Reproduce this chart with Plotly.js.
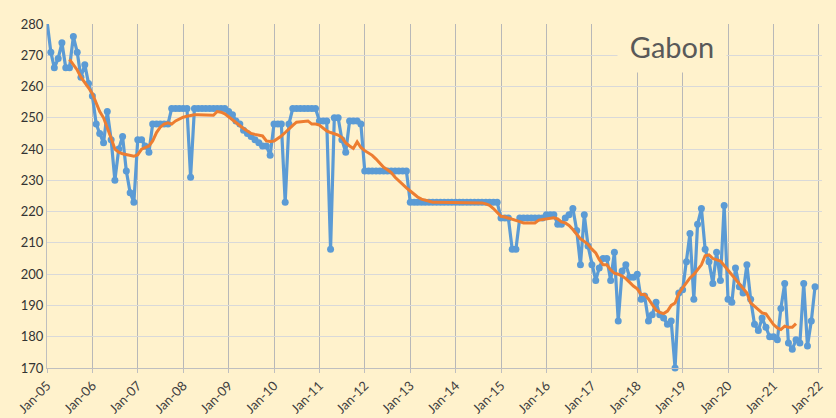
<!DOCTYPE html>
<html>
<head>
<meta charset="utf-8">
<script src="https://cdn.plot.ly/plotly-3.0.1.min.js"></script>
<style>
html,body{margin:0;padding:0;background:#fff2cc;}
#chart{width:836px;height:418px;}
</style>
</head>
<body>
<div id="chart"></div>
<script>
// Monthly production, Jan-2005 .. Dec-2021
const startYear = 2005;
const production = [
  281, 271, 266, 269, 274, 266, 266, 276, 271, 263, 267, 261,   // 2005
  257, 248, 245, 242, 252, 243, 230, 240, 244, 233, 226, 223,   // 2006
  243, 243, 241, 239, 248, 248, 248, 248, 248, 253, 253, 253,   // 2007
  253, 253, 231, 253, 253, 253, 253, 253, 253, 253, 253, 253,   // 2008
  252, 251, 249, 248, 246, 245, 244, 243, 242, 241, 241, 238,   // 2009
  248, 248, 248, 223, 248, 253, 253, 253, 253, 253, 253, 253,   // 2010
  249, 249, 249, 208, 250, 250, 243, 239, 249, 249, 249, 248,   // 2011
  233, 233, 233, 233, 233, 233, 233, 233, 233, 233, 233, 233,   // 2012
  223, 223, 223, 223, 223, 223, 223, 223, 223, 223, 223, 223,   // 2013
  223, 223, 223, 223, 223, 223, 223, 223, 223, 223, 223, 223,   // 2014
  218, 218, 218, 208, 208, 218, 218, 218, 218, 218, 218, 218,   // 2015
  219, 219, 219, 216, 216, 218, 219, 221, 214, 203, 219, 209,   // 2016
  203, 198, 202, 205, 205, 198, 207, 185, 201, 203, 199, 199,   // 2017
  200, 192, 193, 185, 187, 191, 187, 186, 184, 185, 170, 194,   // 2018
  195, 204, 213, 192, 216, 221, 208, 204, 197, 207, 198, 222,   // 2019
  192, 191, 202, 196, 194, 203, 192, 184, 182, 186, 183, 180,   // 2020
  180, 179, 189, 197, 178, 176, 179, 178, 197, 177, 185, 196    // 2021
];
// Centred 12-month average, Jul-2005 .. Jul-2021
const avgStartOffset = 6;
const average = [
  268.7, 267, 265.3, 263, 261.4, 259.6,
  257.7, 255, 252, 250, 247, 243.5, 240, 239, 238.5, 238.2, 238, 237.7,
  238.2, 240, 240.5, 241, 242.6, 245.3, 247, 248, 248.4, 248, 249, 249.7,
  250.2, 250.5, 250.8, 251, 251, 251, 251, 251, 250.8, 252, 251.8, 251.3,
  250.3, 249.5, 248.4, 247.6, 246.6, 245.8, 245, 244.7, 244.5, 244.2, 242.6, 242.4,
  242.6, 243.4, 244.2, 245.3, 246.5, 247.6, 248.6, 248.7, 248.7, 249, 248, 248,
  247.7, 246.6, 245.8, 245.3, 245, 244.5, 243.7, 242, 241, 240.2, 242.3, 240.5,
  239.5, 238.7, 238, 236.8, 235.6, 234.2, 233.4, 232.5, 231, 229.8, 228.7, 227.6,
  226.6, 225.5, 224.7, 224, 223.7, 223.4, 223, 223, 223, 223, 223, 223,
  223, 223, 223, 223, 223, 223, 223, 222.8, 222.5, 222, 221, 219.6,
  218.5, 218.3, 218, 217.5, 217.2, 216.8, 216.4, 216.4, 216.4, 216.4, 217.3, 217.5,
  217.7, 218, 218, 217.7, 216.7, 216.4, 215.6, 214.3, 212.7, 211.3, 210.5, 209.5,
  208, 206.8, 204.7, 203, 203, 201.4, 200.3, 200, 199.4, 198.6, 197.4, 196.2,
  195.3, 193.5, 193.5, 192.1, 190.3, 188.5, 187.8, 187.4, 188.2, 190, 190.8, 193.8,
  195.6, 197.2, 198.8, 199.9, 201.5, 203, 205.9, 206.2, 205, 204.5, 204.2, 202.8,
  201.3, 199.7, 198.3, 196.9, 195.4, 194, 190.8, 189.7, 188.6, 187.6, 187.3, 185.7,
  183.9, 182.8, 182.3, 183.4, 183, 183, 184.2
];
const tickYears = [2005,2006,2007,2008,2009,2010,2011,2012,2013,2014,2015,2016,2017,2018,2019,2020,2021,2022];
const tickLabels = ['Jan-05','Jan-06','Jan-07','Jan-08','Jan-09','Jan-10','Jan-11','Jan-12','Jan-13','Jan-14','Jan-15','Jan-16','Jan-17','Jan-18','Jan-19','Jan-20','Jan-21','Jan-22'];
const chartTitle = 'Gabon';

function monthDate(idx){
  const y = startYear + Math.floor(idx/12);
  const m = (idx % 12) + 1;
  return y + '-' + (m < 10 ? '0' + m : m) + '-01';
}
const xProd = production.map((_, i) => monthDate(i));
const xAvg = average.map((_, i) => monthDate(i + avgStartOffset));
const tickVals = tickYears.map(y => y + '-01-01');

const traces = [
  {
    x: xProd, y: production, type: 'scatter', mode: 'lines+markers',
    line: {color: '#5b9bd5', width: 3.2},
    marker: {color: '#5b9bd5', size: 7},
    cliponaxis: false, hoverinfo: 'skip', showlegend: false
  },
  {
    x: xAvg, y: average, type: 'scatter', mode: 'lines',
    line: {color: '#ed7d31', width: 3},
    cliponaxis: false, hoverinfo: 'skip', showlegend: false
  }
];

const layout = {
  width: 836, height: 418,
  paper_bgcolor: '#fff2cc', plot_bgcolor: '#fff2cc',
  margin: {l: 47, r: 14, t: 24, b: 50},
  font: {family: 'Lato, "Liberation Sans", sans-serif', color: '#404040', size: 12},
  showlegend: false,
  xaxis: {
    type: 'date',
    range: ['2005-01-01', '2022-01-26'],
    tickmode: 'array', tickvals: tickVals, ticktext: tickLabels,
    tickangle: -45, tickfont: {size: 13, color: '#404040'},
    ticks: 'outside', ticklen: 4, tickcolor: '#bfbfbf',
    showgrid: true, gridcolor: '#b8b8b8', gridwidth: 1,
    showline: true, linecolor: '#bfbfbf', linewidth: 1,
    zeroline: false, fixedrange: true
  },
  yaxis: {
    range: [170, 280], dtick: 10, tick0: 170,
    tickfont: {size: 13, color: '#333333'},
    ticks: '', showgrid: true, gridcolor: '#d9d9d9', gridwidth: 1,
    showline: true, linecolor: '#bfbfbf', linewidth: 1,
    zeroline: false, fixedrange: true
  },
  annotations: [{
    text: chartTitle, xref: 'paper', yref: 'paper',
    x: 0.8065, y: 0.935, xanchor: 'center', yanchor: 'middle',
    showarrow: false, bgcolor: '#fff2cc', width: 106, height: 49,
    font: {size: 29, color: '#595959', family: 'Lato, sans-serif'}
  }]
};

Plotly.newPlot('chart', traces, layout, {staticPlot: true, displayModeBar: false});
</script>
</body>
</html>
